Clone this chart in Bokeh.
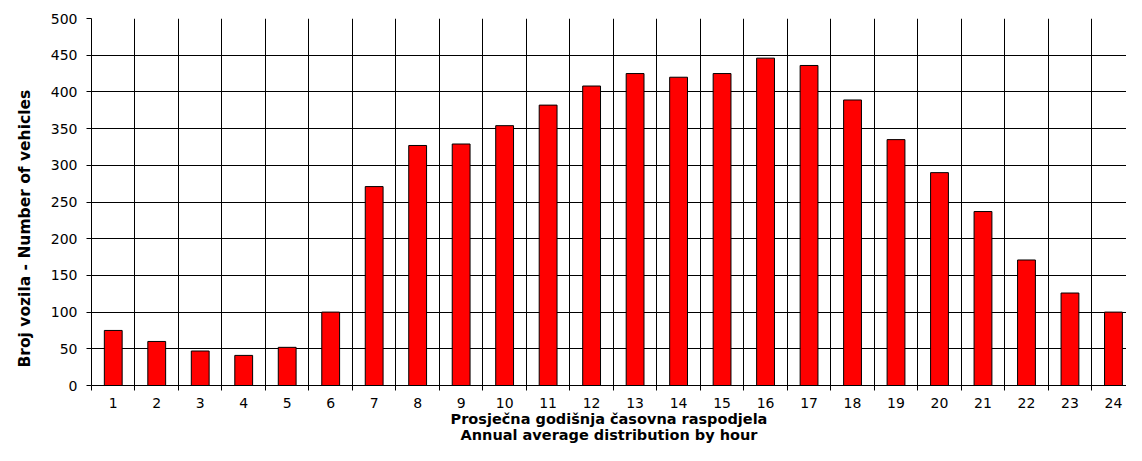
from bokeh.plotting import figure
from bokeh.models import Range1d, FixedTicker, Title
from bokeh.embed import file_html
from bokeh.resources import INLINE

hours = list(range(1, 25))
hour_labels = [str(h) for h in hours]
vehicles = [75, 60, 47, 41, 52, 100, 271, 327, 329, 354, 382, 408,
            425, 420, 425, 446, 436, 389, 335, 290, 237, 171, 126, 100]
y_ticks = list(range(0, 501, 50))
y_title = "Broj vozila - Number of vehicles"
x_title = "Prosječna godišnja časovna raspodjela\nAnnual average distribution by hour"

FONT = "DejaVu Sans"

p = figure(width=1126, height=445, output_backend="svg", toolbar_location=None,
           x_range=Range1d(0.5, 24.3), y_range=Range1d(0, 500),
           min_border_left=91, min_border_right=0, min_border_top=18, min_border_bottom=0)
p.outline_line_color = None
p.background_fill_color = "white"
p.border_fill_color = "white"

p.vbar(x=hours, top=vehicles, width=0.41, fill_color="#FF0000",
       line_color="black", line_width=1)

boundaries = [h - 0.5 for h in hours]

# x axis
xa = p.xaxis[0]
xa.ticker = FixedTicker(ticks=hours, minor_ticks=boundaries)
xa.major_label_overrides = {h: lab for h, lab in zip(hours, hour_labels)}
xa.major_tick_line_color = None
xa.major_tick_out = 0
xa.major_tick_in = 0
xa.minor_tick_out = 5
xa.minor_tick_in = 0
xa.minor_tick_line_color = "black"
xa.axis_line_color = "black"
xa.major_label_standoff = 7
xa.major_label_text_font = FONT
xa.major_label_text_font_size = "14px"
xa.major_label_text_color = "black"
xa.axis_label = x_title
xa.axis_label_text_font = FONT
xa.axis_label_text_font_style = "bold"
xa.axis_label_text_font_size = "14.5px"
xa.axis_label_text_line_height = 1.0
xa.axis_label_standoff = 0
xa.axis_label_text_color = "black"

# y axis
ya = p.yaxis[0]
ya.ticker = FixedTicker(ticks=y_ticks)
ya.minor_tick_line_color = None
ya.major_tick_out = 5
ya.major_tick_in = 0
ya.major_tick_line_color = "black"
ya.axis_line_color = "black"
ya.major_label_standoff = 9
ya.major_label_text_font = FONT
ya.major_label_text_font_size = "14px"
ya.major_label_text_color = "black"

p.add_layout(Title(text=y_title, align="left", offset=18, standoff=27,
                   text_font=FONT, text_font_style="bold", text_font_size="15.5px",
                   text_color="black"), "left")

# grids
p.xgrid.ticker = FixedTicker(ticks=boundaries)
p.xgrid.grid_line_color = "black"
p.xgrid.grid_line_width = 1
p.ygrid.ticker = FixedTicker(ticks=y_ticks)
p.ygrid.grid_line_color = "black"
p.ygrid.grid_line_width = 1

open("out.html", "w").write(file_html(p, INLINE))
